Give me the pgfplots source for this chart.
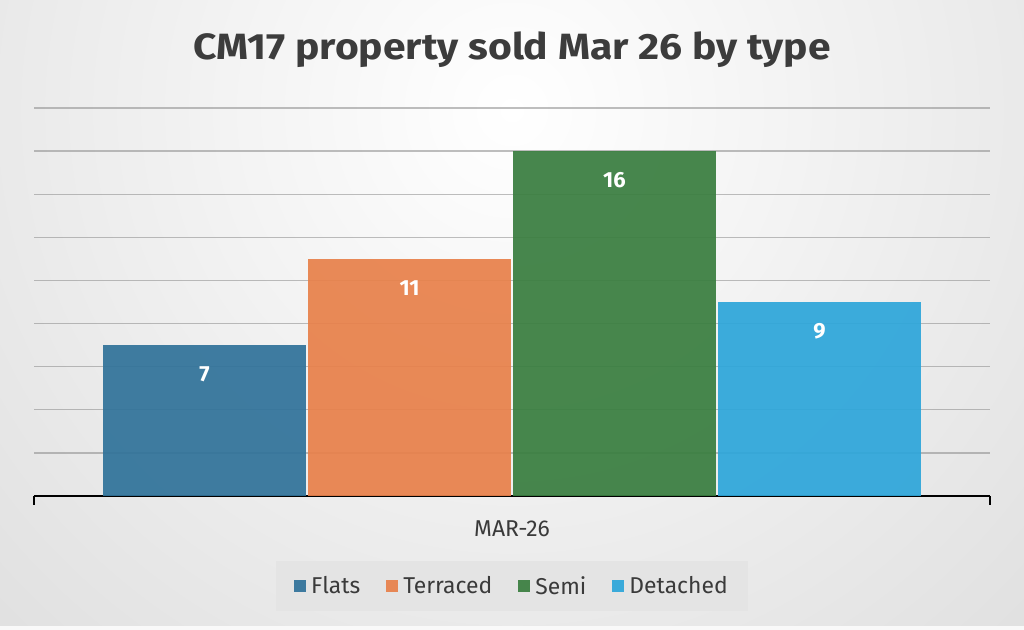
\documentclass[border=0pt]{standalone}
\usepackage{pgfplots}
\pgfplotsset{compat=1.18}
\usepackage{fontspec}
\setmainfont{Fira Sans}
\definecolor{flats}{HTML}{31739A}
\definecolor{terraced}{HTML}{E8814B}
\definecolor{semi}{HTML}{3A7E40}
\definecolor{detached}{HTML}{2EA6DA}
\definecolor{bgout}{HTML}{CFCFCF}
\definecolor{titlec}{HTML}{3C3C3C}
\definecolor{txt}{HTML}{3A3A3A}
\definecolor{gridc}{HTML}{8A8A8A}
\definecolor{legbg}{HTML}{E4E4E4}
\begin{document}
\begin{tikzpicture}[x=1bp,y=1bp]
\begin{scope}
\clip (0,0) rectangle (1024,630);
\fill[bgout] (0,0) rectangle (1024,630);
\shade[inner color=white, outer color=bgout] (512,520) circle (1150);
\fill[white!95!gray] (0,0) rectangle (1024,4);
\end{scope}
\useasboundingbox (0,0) rectangle (1024,630);
\node[text=titlec, font=\bfseries\fontsize{39}{40}\selectfont, anchor=base, inner sep=0pt] at (512bp,570bp) {\scalebox{1.05}[0.94]{CM17 property sold Mar 26 by type}};
\begin{axis}[
  at={(34bp,134bp)}, anchor=south west,
  scale only axis, width=956bp, height=388bp,
  xmin=-478, xmax=478, ymin=0, ymax=18,
  ybar=2bp, bar width=203,
  axis x line*=bottom, axis y line*=left,
  x axis line style={-, black, line width=2bp},
  y axis line style={draw=none},
  xtick={0}, xticklabels={MAR-26},
  major tick length=0pt,
  extra x ticks={-478,478}, extra x tick labels={},
  extra x tick style={major tick length=9bp, tick align=outside, tick style={black, line width=2bp}},
  xticklabel style={text=txt, font=\fontsize{23}{23}\selectfont, yshift=-21bp},
  ytick={2,4,...,18}, yticklabels={},
  ymajorgrids, major grid style={gridc, line width=1.3bp, opacity=0.55},
  nodes near coords,
  every node near coord/.append style={anchor=center, yshift=-29bp, text=white, font=\bfseries\fontsize{22}{22}\selectfont, /pgf/number format/assume math mode=true},
  legend style={at={(0.5,-0.232)}, anchor=center, legend columns=4, fill=legbg, draw=none,
    font=\fontsize{23}{23}\selectfont, text=txt, inner xsep=18bp, inner ysep=13bp,
    /tikz/every even column/.append style={column sep=24bp},
    /tikz/every odd column/.append style={column sep=3bp}},
  legend image code/.code={\fill[#1, draw=none] (0bp,-6bp) rectangle (12bp,6bp);},
  every axis plot/.append style={draw=none, fill opacity=0.93, text opacity=1},
]
\addplot[fill=flats] coordinates {(0,7)};
\addplot[fill=terraced] coordinates {(0,11)};
\addplot[fill=semi] coordinates {(0,16)};
\addplot[fill=detached] coordinates {(0,9)};
\legend{Flats, Terraced, Semi, Detached}
\end{axis}
\end{tikzpicture}
\end{document}
